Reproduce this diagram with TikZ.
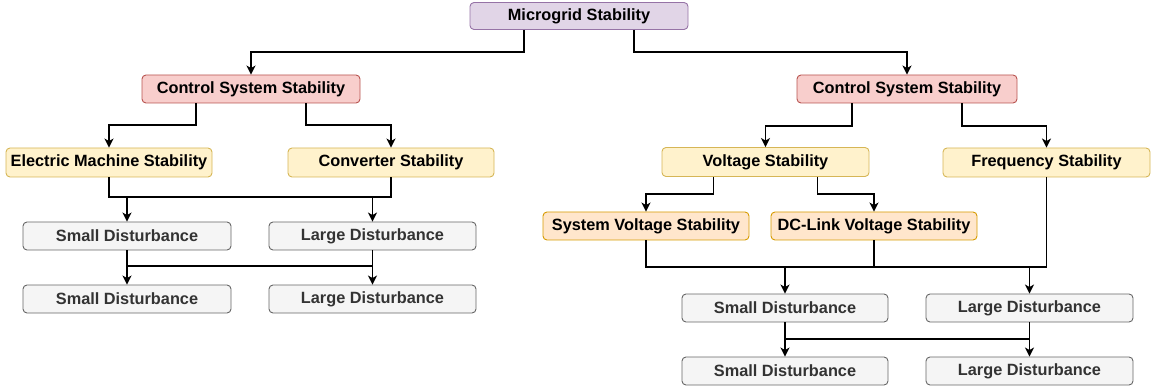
\documentclass[tikz,border=0pt]{standalone}
\usepackage{fontspec}
\setmainfont{Liberation Sans}
\usetikzlibrary{arrows.meta,calc}

\definecolor{purpleFill}{HTML}{E1D5E7}\definecolor{purpleLine}{HTML}{9673A6}
\definecolor{redFill}{HTML}{F8CECC}\definecolor{redLine}{HTML}{B85450}
\definecolor{yellowFill}{HTML}{FFF2CC}\definecolor{yellowLine}{HTML}{D6B656}
\definecolor{orangeFill}{HTML}{FFE6CC}\definecolor{orangeLine}{HTML}{D79B00}
\definecolor{greyFill}{HTML}{F5F5F5}\definecolor{greyLine}{HTML}{666666}
\definecolor{greyText}{HTML}{333333}

\tikzset{
  box/.style={draw, rounded corners=4pt, line width=0.9pt, inner sep=0pt,
    minimum height=28pt, font=\fontsize{16.3}{19}\selectfont\bfseries},
  rootbox/.style={box, fill=purpleFill, draw=purpleLine, minimum height=27pt},
  ctrlbox/.style={box, fill=redFill, draw=redLine},
  kindbox/.style={box, fill=yellowFill, draw=yellowLine, minimum height=29pt},
  subbox/.style={box, fill=orangeFill, draw=orangeLine},
  distbox/.style={box, fill=greyFill, draw=greyLine, text=greyText},
  link/.style={line width=1.8pt, -{Stealth[length=9pt,width=9pt,inset=2.5pt]}},
  bus/.style={line width=1.8pt},
}

\begin{document}
\begin{tikzpicture}[x=1pt, y=-1pt]
\useasboundingbox (0,0) rectangle (1153,387);

% nodes
\node[rootbox, minimum width=218pt] (root) at (579,16) {Microgrid Stability};

\node[ctrlbox, minimum width=218pt] (ctrlL) at (251,89) {Control System Stability};
\node[ctrlbox, minimum width=220pt] (ctrlR) at (907,89) {Control System Stability};

\node[kindbox, minimum width=206pt] (elec) at (109,162.5) {Electric Machine Stability};
\node[kindbox, minimum width=206pt] (conv) at (391,162.5) {Converter Stability};
\node[kindbox, minimum width=207pt] (volt) at (765.5,162) {Voltage Stability};
\node[kindbox, minimum width=207pt] (freq) at (1046.5,162.5) {Frequency Stability};

\node[subbox, minimum width=206pt] (sysv) at (646,226) {System Voltage Stability};
\node[subbox, minimum width=206pt] (dcv) at (874,226) {DC-Link Voltage Stability};

\node[distbox, minimum width=208pt] (sdLa) at (127,236) {Small Disturbance};
\node[distbox, minimum width=207pt] (ldLa) at (372.5,236) {Large Disturbance};
\node[distbox, minimum width=208pt] (sdLb) at (127,299) {Small Disturbance};
\node[distbox, minimum width=207pt] (ldLb) at (372.5,299) {Large Disturbance};

\node[distbox, minimum width=206pt] (sdRa) at (785,308) {Small Disturbance};
\node[distbox, minimum width=207pt] (ldRa) at (1029.5,308) {Large Disturbance};
\node[distbox, minimum width=206pt] (sdRb) at (785,371) {Small Disturbance};
\node[distbox, minimum width=207pt] (ldRb) at (1029.5,371) {Large Disturbance};

% exit points on the lower edges (quarter and three-quarter)
\foreach \n in {root,ctrlL,ctrlR,volt}{
  \coordinate (\n q1) at ($(\n.south west)!0.25!(\n.south east)$);
  \coordinate (\n q3) at ($(\n.south west)!0.75!(\n.south east)$);
}

% root to the two control branches
\draw[link] (rootq1) -- (rootq1 |- 0,52) -| (ctrlL.north);
\draw[link] (rootq3) -- (rootq3 |- 0,52) -| (ctrlR.north);

% left control branch to its two kinds of stability
\draw[link] (ctrlLq1) -- (ctrlLq1 |- 0,125) -| (elec.north);
\draw[link] (ctrlLq3) -- (ctrlLq3 |- 0,125) -| (conv.north);

% right control branch to voltage and frequency
\draw[link] (ctrlRq1) -- (ctrlRq1 |- 0,126) -| (volt.north);
\draw[link] (ctrlRq3) -- (ctrlRq3 |- 0,126) -| (freq.north);

% voltage stability to its two kinds
\draw[link] (voltq1) -- (voltq1 |- 0,194) -| (sysv.north);
\draw[link] (voltq3) -- (voltq3 |- 0,194) -| (dcv.north);

% left side: shared bus into the first disturbance row
\coordinate (busLa) at (0,197);
\draw[bus] (elec.south) -- (elec.south |- busLa) -- (conv.south |- busLa) -- (conv.south);
\draw[link] (sdLa.north |- busLa) -- (sdLa.north);
\draw[link] (ldLa.north |- busLa) -- (ldLa.north);

% left side: shared bus into the second disturbance row
\coordinate (busLb) at (0,266);
\draw[bus] (sdLa.south) -- (sdLa.south |- busLb) -- (ldLa.south |- busLb) -- (ldLa.south);
\draw[link] (sdLb.north |- busLb) -- (sdLb.north);
\draw[link] (ldLb.north |- busLb) -- (ldLb.north);

% right side: shared bus into the first disturbance row
\coordinate (busRa) at (0,267);
\draw[bus] (sysv.south) -- (sysv.south |- busRa) -- (freq.south |- busRa) -- (freq.south);
\draw[bus] (dcv.south) -- (dcv.south |- busRa);
\draw[link] (sdRa.north |- busRa) -- (sdRa.north);
\draw[link] (ldRa.north |- busRa) -- (ldRa.north);

% right side: shared bus into the second disturbance row
\coordinate (busRb) at (0,339);
\draw[bus] (sdRa.south) -- (sdRa.south |- busRb) -- (ldRa.south |- busRb) -- (ldRa.south);
\draw[link] (sdRb.north |- busRb) -- (sdRb.north);
\draw[link] (ldRb.north |- busRb) -- (ldRb.north);
\end{tikzpicture}
\end{document}
